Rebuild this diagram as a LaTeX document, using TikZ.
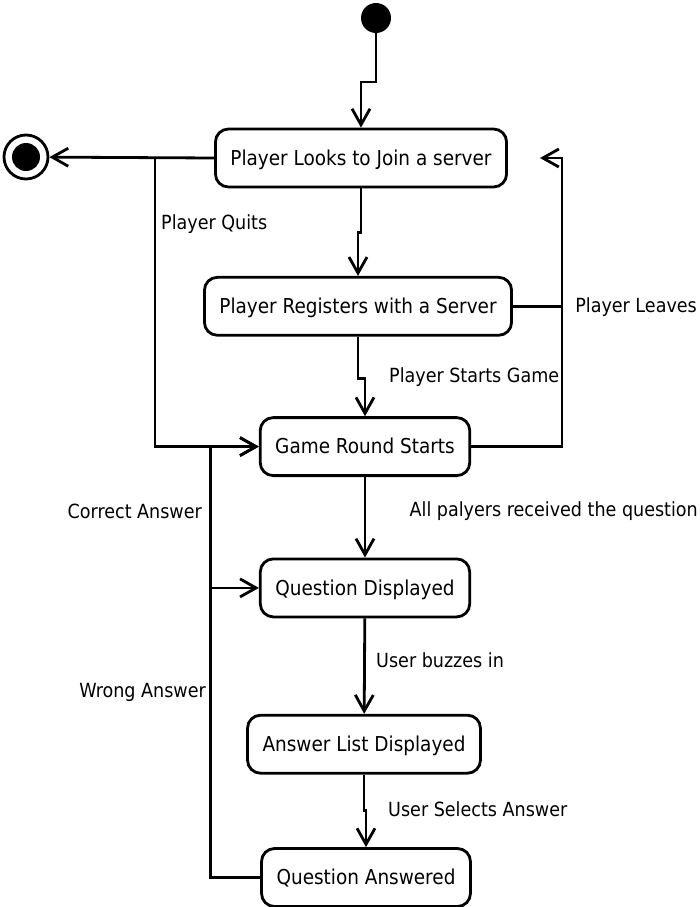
\documentclass[tikz,border=0pt]{standalone}
\usepackage{fontspec}
\setmainfont{DejaVu Sans Condensed}
\usepackage{tikz}
\usetikzlibrary{shapes,arrows.meta,positioning}
\tikzstyle{state} = [rectangle, rounded corners=13pt, draw=black, line width=2.8pt, text=black, text centered, font=\fontsize{20.5}{24}\selectfont, text height=15.5pt, text depth=1pt, minimum height=58pt, inner xsep=15pt]
\tikzstyle{start} = [circle, fill=black, minimum size=30pt, inner sep=0pt]
\tikzstyle{stop} = [circle, draw=black, line width=2.8pt, minimum size=44pt, inner sep=0pt, path picture={\fill[black] (path picture bounding box.center) circle (14pt);}]
\tikzstyle{tlabel} = [font=\fontsize{19.5}{23}\selectfont, inner sep=0pt]
\tikzstyle{tedge}  = [draw, line width=2.8pt, -{Straight Barb[length=16pt,width=18pt]}]
\tikzstyle{tline}  = [draw, line width=2.8pt]

\begin{document}
\begin{tikzpicture}[auto]
\useasboundingbox (0pt,0pt) rectangle (700pt,-907pt);

% states =============================

% start and stop
\node[start] (init) at (376pt,-18pt) {};
\node[stop] (final) at (26pt,-157pt) {};

% main column
\node[state] (join) at (361pt,-158pt) {Player Looks to Join a server};
\node[state, below=87.5pt of join, xshift=-3pt] (reg) {Player Registers with a Server};
\node[state, below=79.5pt of reg, xshift=7pt] (game) {Game Round Starts};
\node[state, below=80.5pt of game] (shown) {Question Displayed};
\node[state, below=95.5pt of shown, xshift=-1pt] (list) {Answer List Displayed};
\node[state, below=72.5pt of list, xshift=2pt] (answered) {Question Answered};

% corners of the loops
\coordinate (quit) at (155pt,-158pt);
\coordinate (leave) at (562pt,-158pt);
\coordinate (back) at (540pt,-158pt);
\coordinate[left=48pt of game.west] (wrong);

% labels
\node[tlabel, anchor=west] (lquit) at (161pt,-224pt) {Player Quits};
\node[tlabel, anchor=east] (lleave) at (697pt,-307pt) {Player Leaves};
\node[tlabel, anchor=west] (lstart) at (389pt,-377pt) {Player Starts Game};
\node[tlabel, anchor=east] (lall) at (698pt,-511pt) {All palyers received the question};
\node[tlabel, anchor=east] (lcorrect) at (202pt,-511pt) {Correct Answer};
\node[tlabel, anchor=west] (lbuzz) at (376pt,-660pt) {User buzzes in};
\node[tlabel, anchor=east] (lwrong) at (206pt,-692pt) {Wrong Answer};
\node[tlabel, anchor=west] (lselect) at (388pt,-809pt) {User Selects Answer};

%edges
\path[tedge] (init) -- ++(0,-64pt) -| (join.north);
\path[tedge] (join.south) -- ++(0,-44pt) -| (reg.north);
\path[tedge] (reg.south) -- ++(0,-42pt) -| (game.north);
\path[tedge] (game.south) -- ++(0,-42pt) -| (shown.north);
\path[tedge] (shown) -- (list);
\path[tedge] (list.south) -- ++(0,-36pt) -| (answered.north);

\path[tedge] (join.west) -- (final);
\path[tedge] (quit) |- (game.west);

\path[tedge] (answered.west) -| (wrong) -- (game.west);
\path[tedge] (wrong |- shown.west) -- (shown.west);

\path[tedge] (game.east) -| (leave) -- (back);
\path[tline] (reg.east) -- (reg.east -| leave);

\end{tikzpicture}
\end{document}
